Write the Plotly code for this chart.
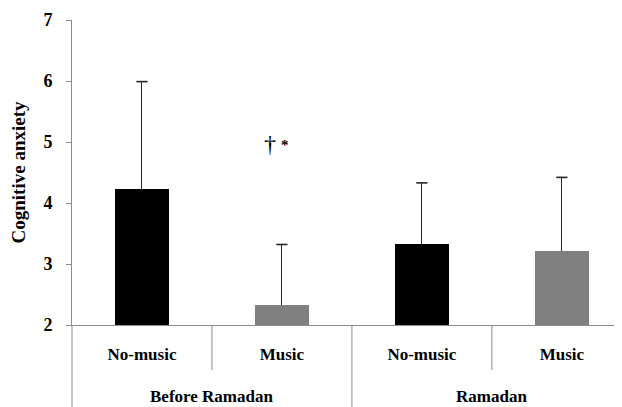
import plotly.graph_objects as go

groups = ["Before Ramadan", "Ramadan"]
conditions = ["No-music", "Music"]
means = [4.23, 2.33, 3.33, 3.21]
sd_upper = [1.76, 0.99, 1.0, 1.21]
bar_colors = ["#000000", "#808080", "#000000", "#808080"]
y_ticks = [2, 3, 4, 5, 6, 7]

n = len(groups) * len(conditions)
xs = list(range(n))
sub_labels = [c for g in groups for c in conditions]
tops = [m + s for m, s in zip(means, sd_upper)]

FONT = "Liberation Serif"
AX = "#8c8c8c"
ERR = "#262626"
PLOT_H = 305.0

fig = go.Figure()
fig.add_trace(go.Bar(
    x=xs, y=[m - 2 for m in means], base=2,
    width=0.39,
    marker=dict(color=bar_colors, line=dict(width=0)),
    error_y=dict(type="data", symmetric=False, array=sd_upper,
                 arrayminus=[0] * n, color=ERR, thickness=1, width=0),
    showlegend=False, hoverinfo="skip",
))
# caps at the top of the error bars only
fig.add_trace(go.Scatter(
    x=xs, y=tops, mode="markers",
    marker=dict(symbol="line-ew", size=8, line=dict(color=ERR, width=1.6)),
    showlegend=False, hoverinfo="skip",
))

shapes = []
for gi in range(len(groups)):
    for ci in range(1, len(conditions)):
        xb = gi * len(conditions) + ci - 0.5
        shapes.append(dict(type="line", xref="x", yref="paper", x0=xb, x1=xb,
                           y0=0, y1=-45 / PLOT_H, line=dict(color=AX, width=1)))
for gi in range(1, len(groups)):
    xb = gi * len(conditions) - 0.5
    shapes.append(dict(type="line", xref="x", yref="paper", x0=xb, x1=xb,
                       y0=0, y1=-0.3, line=dict(color=AX, width=1)))
shapes.append(dict(type="line", xref="paper", yref="paper", x0=0, x1=0,
                   y0=0, y1=-0.3, line=dict(color=AX, width=1)))

annotations = []
for gi, g in enumerate(groups):
    xc = gi * len(conditions) + (len(conditions) - 1) / 2
    annotations.append(dict(x=xc, y=-71 / PLOT_H, xref="x", yref="paper",
                            text=f"<b>{g}</b>", showarrow=False, yanchor="middle",
                            font=dict(family=FONT, size=17, color="#000000")))
annotations.append(dict(x=0.915, y=4.97, xref="x", yref="y", text="†",
                        showarrow=False, xanchor="center", yanchor="middle",
                        font=dict(family=FONT, size=24, color="#000000")))
annotations.append(dict(x=1.025, y=4.95, xref="x", yref="y", text="<b>*</b>",
                        showarrow=False, xanchor="center", yanchor="middle",
                        font=dict(family=FONT, size=15, color="#000000")))

fig.update_layout(
    width=622, height=407,
    margin=dict(l=64, r=0, t=12, b=90, autoexpand=False),
    paper_bgcolor="white", plot_bgcolor="white",
    font=dict(family=FONT, color="#000000"),
    shapes=shapes, annotations=annotations,
    bargap=0,
)
fig.update_xaxes(
    range=[-0.5, 3.487], tickvals=xs, ticktext=[f"<b>{s}</b>" for s in sub_labels],
    showline=True, linecolor=AX, linewidth=1, ticks="", showgrid=False,
    zeroline=False, tickfont=dict(family=FONT, size=17, color="#000000"),
    ticklabelstandoff=14, automargin=False,
)
fig.update_yaxes(
    range=[2, 7], tickvals=y_ticks, ticktext=[f"<b>{t}</b>" for t in y_ticks],
    showline=True, linecolor=AX, linewidth=1, ticks="outside", ticklen=5,
    tickcolor=AX, showgrid=False, zeroline=False, automargin=False,
    tickfont=dict(family=FONT, size=18, color="#000000"),
    ticklabelstandoff=10,
    title=dict(text="<b>Cognitive anxiety</b>", font=dict(family=FONT, size=19, color="#000000"),
               standoff=13),
)

fig.write_html("out.html")
